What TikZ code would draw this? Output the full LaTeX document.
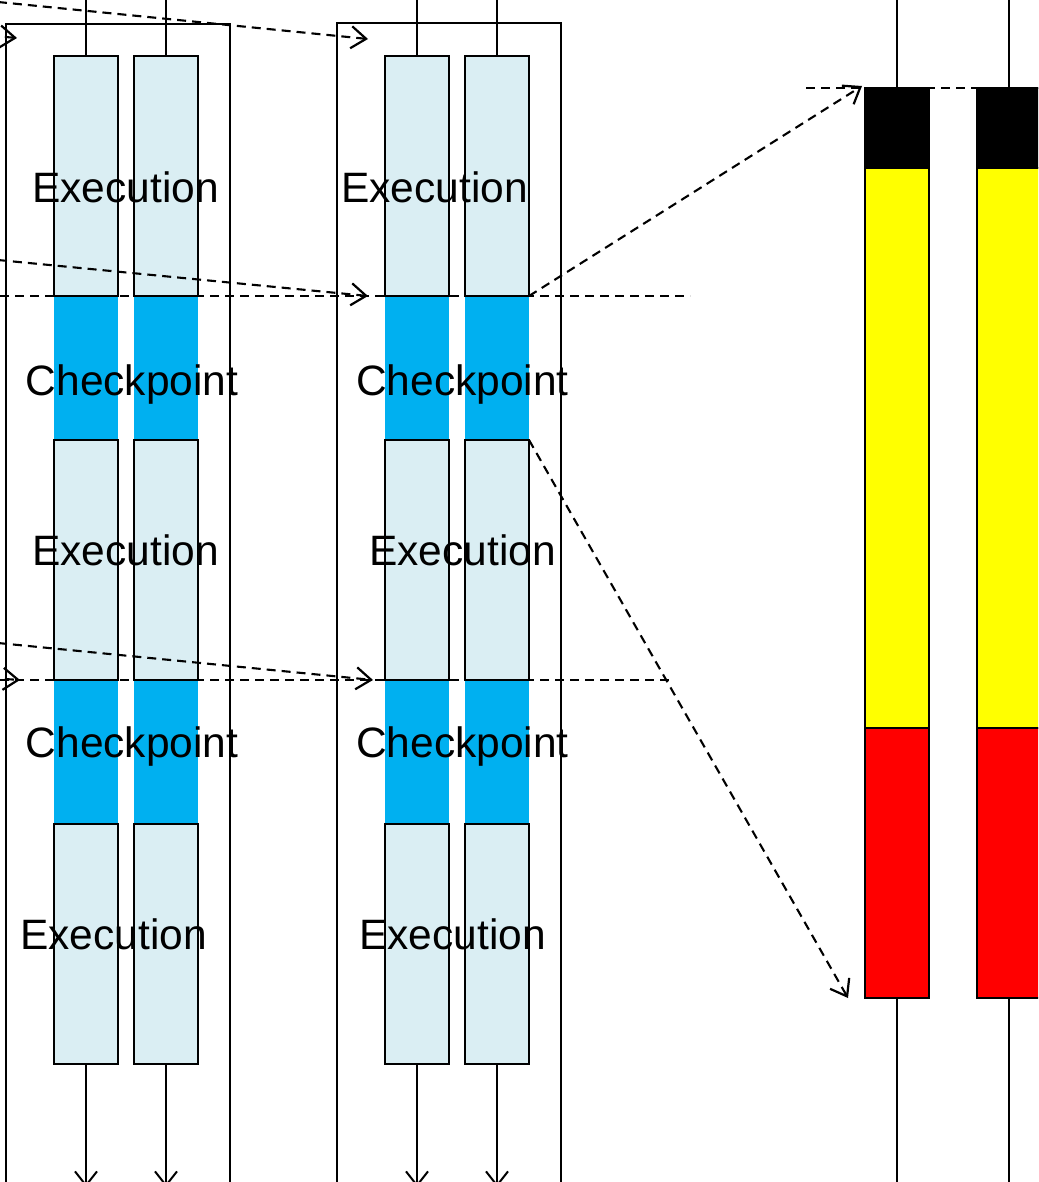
\documentclass[tikz,border=0pt]{standalone}
\usepackage{fontspec}
\setmainfont{Liberation Sans}
\usetikzlibrary{arrows.meta}
\definecolor{execfill}{HTML}{DAEEF3}
\definecolor{ckptfill}{HTML}{00B0F0}
\definecolor{stageyellow}{HTML}{FFFF00}
\definecolor{stagered}{HTML}{FF0000}

\begin{document}
\begin{tikzpicture}[x=1pt,y=-1pt,
  base/.style={inner sep=0pt, outer sep=0pt, minimum width=64pt},
  exebox/.style={base, draw, line width=2.1pt, fill=execfill, minimum height=240pt},
  ckbox/.style={base, fill=ckptfill, minimum height=144pt},
  barbox/.style={base, draw, line width=2.1pt},
  frame/.style={draw, line width=2.1pt},
  wire/.style={draw, line width=1.9pt},
  outwire/.style={wire, -{Straight Barb[length=14pt,width=22pt,line width=2pt]}},
  dashline/.style={draw, line width=2.1pt, dash pattern=on 9pt off 6pt},
  dasharrow/.style={dashline, -{Straight Barb[length=15pt,width=22pt,line width=2.2pt]}},
  lbl/.style={inner sep=0pt, anchor=base, font=\fontsize{42.5}{50}\selectfont}
]
\useasboundingbox (0,0) rectangle (1038,1182);
\clip (0,0) rectangle (1038,1182);

% outer frames of the two process groups
\draw[frame] (6,24) rectangle (230,1230);
\draw[frame] (337,23) rectangle (561,1230);

% checkpoint blocks (filled, no outline)
\foreach \g/\xa/\xb in {L/86/166, M/417/497} {
  \node[ckbox] (\g c1a) at (\xa,368) {};
  \node[ckbox] (\g c1b) at (\xb,368) {};
  \node[ckbox] (\g c2a) at (\xa,752) {};
  \node[ckbox] (\g c2b) at (\xb,752) {};
}

% execution blocks
\foreach \g/\xa/\xb in {L/86/166, M/417/497} {
  \node[exebox] (\g e1a) at (\xa,176) {};
  \node[exebox] (\g e1b) at (\xb,176) {};
  \node[exebox] (\g e2a) at (\xa,560) {};
  \node[exebox] (\g e2b) at (\xb,560) {};
  \node[exebox] (\g e3a) at (\xa,944) {};
  \node[exebox] (\g e3b) at (\xb,944) {};
  % incoming and outgoing wires
  \coordinate (\g ina) at (\xa,0);
  \coordinate (\g inb) at (\xb,0);
  \coordinate (\g outa) at (\xa,1187);
  \coordinate (\g outb) at (\xb,1187);
  \draw[wire] (\g ina) -- (\g e1a.north);
  \draw[wire] (\g inb) -- (\g e1b.north);
  \draw[outwire] (\g e3a.south) -- (\g outa);
  \draw[outwire] (\g e3b.south) -- (\g outb);
}

% zoomed checkpoint bars
\foreach \n/\x in {a/897, b/1009} {
  \node[barbox, fill=black, minimum height=80pt] (Rk\n) at (\x,128) {};
  \node[barbox, fill=stageyellow, minimum height=560pt] (Ry\n) at (\x,448) {};
  \node[barbox, fill=stagered, minimum height=270pt] (Rr\n) at (\x,863) {};
  \coordinate (Rin\n) at (\x,0);
  \coordinate (Rout\n) at (\x,1182);
  \draw[wire] (Rin\n) -- (Rk\n.north);
  \draw[wire] (Rr\n.south) -- (Rout\n);
}

% labels
\node[lbl] (tLe1) at (125.5,203) {Execution};
\node[lbl] (tLc1) at (132,395) {Checkpoint};
\node[lbl] (tLe2) at (125.5,565) {Execution};
\node[lbl] (tLc2) at (132,757) {Checkpoint};
\node[lbl] (tLe3) at (113.5,949) {Execution};
\node[lbl] (tMe1) at (434.5,203) {Execution};
\node[lbl] (tMc1) at (462.5,395) {Checkpoint};
\node[lbl] (tMe2) at (462.5,565) {Execution};
\node[lbl] (tMc2) at (462.5,757) {Checkpoint};
\node[lbl] (tMe3) at (452.5,949) {Execution};

% checkpoint boundary lines
\coordinate (h1s) at (0,296);
\coordinate (h1e) at (690,296);
\coordinate (h2s) at (0,680);
\coordinate (h2e) at (672,680);
\coordinate (h3s) at (806,88);
\coordinate (h3e) at (1040,88);
\draw[dashline] (h1s) -- (h1e);
\draw[dashline] (h2s) -- (h2e);
\draw[dashline] (h3s) -- (h3e);

% message arrows between processes
\coordinate (m0s) at (-40,33);
\coordinate (m0e) at (17,38);
\coordinate (m1s) at (-2,2);
\coordinate (m1e) at (368,39);
\coordinate (m2s) at (-2,260);
\coordinate (m2e) at (368,296);
\coordinate (m3s) at (-40,676);
\coordinate (m3e) at (20,680);
\coordinate (m4s) at (-2,643);
\coordinate (m4e) at (373,680);
\draw[dasharrow] (m0s) -- (m0e);
\draw[dasharrow] (m1s) -- (m1e);
\draw[dasharrow] (m2s) -- (m2e);
\draw[dasharrow] (m3s) -- (m3e);
\draw[dasharrow] (m4s) -- (m4e);

% zoom arrows from the checkpoint to the detailed bar
\coordinate (z1e) at ([xshift=-3pt,yshift=2pt]Rka.north west);
\coordinate (z2e) at ([xshift=-17pt]Rra.south west);
\draw[dasharrow] (Me1b.south east) -- (z1e);
\draw[dasharrow] (Me2b.north east) -- (z2e);
\end{tikzpicture}
\end{document}
